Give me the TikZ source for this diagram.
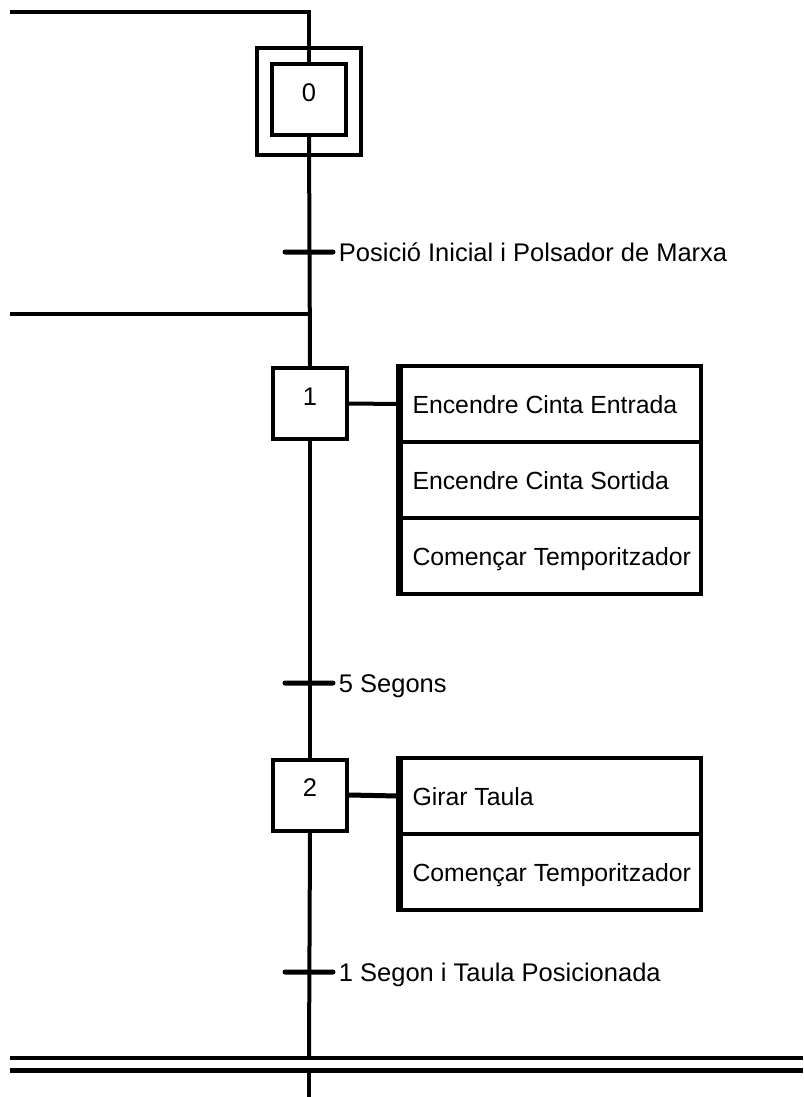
\documentclass[tikz,border=0pt]{standalone}
\usepackage{fontspec}
\setmainfont{Liberation Sans}
\begin{document}
\begin{tikzpicture}[x=1pt,y=-1pt,
  font=\fontsize{25.5}{30}\selectfont,
  conn/.style={line width=4pt},
  stepbox/.style={draw, line width=4pt, minimum width=74pt, minimum height=71pt, inner sep=0pt, text height=18.3pt, text depth=15pt},
  initouter/.style={draw, line width=4pt, minimum width=104pt, minimum height=107pt, inner sep=0pt},
  actrow/.style={draw, line width=4pt, minimum height=76pt, inner xsep=12pt, inner ysep=0pt, text height=18pt, text depth=0pt, font=\fontsize{24.8}{30}\selectfont},
  trans/.style={fill, minimum width=53pt, minimum height=5pt, inner sep=0pt, rounded corners=2.5pt},
  translabel/.style={anchor=west, inner sep=0pt, xshift=3pt, text height=18.3pt, text depth=0pt}]
\useasboundingbox (0,0) rectangle (803,1097);
\newcommand{\actxt}[1]{\makebox[276pt][l]{#1}}

% coordinates for free ends
\coordinate (topleft) at (10,12);
\coordinate (topcorner) at (309,12);
\coordinate (loopleft) at (10,314);
\coordinate (loopjoin) at (309,314);
\coordinate (dblAleft) at (10,1058);
\coordinate (dblAright) at (803,1058);
\coordinate (dblBleft) at (10,1070);
\coordinate (dblBright) at (803,1070);
\coordinate (endA) at (309,1058);
\coordinate (startB) at (309,1070);
\coordinate (bottom) at (309,1097);

% steps
\node[initouter] (s0o) at (309,101.5) {};
\node[stepbox] (s0) at (309,99.5) {0};
\node[stepbox] (s1) at (310,403.5) {1};
\node[stepbox] (s2) at (310,795) {2};

% actions
\node[actrow] (a11) at (550.5,404) {\actxt{Encendre Cinta Entrada}};
\node[actrow] (a12) at (550.5,480) {\actxt{Encendre Cinta Sortida}};
\node[actrow] (a13) at (550.5,556) {\actxt{Començar Temporitzador}};
\node[actrow] (a21) at (550.5,796) {\actxt{Girar Taula}};
\node[actrow] (a22) at (550.5,872) {\actxt{Començar Temporitzador}};
\draw[line width=6pt] (a11.north west) -- (a13.south west);
\draw[line width=6pt] (a21.north west) -- (a22.south west);

% main line
\draw[conn] (topleft) -- (topcorner) -- (s0.north);
\draw[conn] (s0.south) -- (s1.north);
\draw[conn] (loopleft) -- (loopjoin);
\draw[conn] (s1.south) -- (s2.north);
\draw[conn] (s2.south) -- (endA);
\draw[conn] (startB) -- (bottom);
\draw[line width=3.5pt] (dblAleft) -- (dblAright);
\draw[line width=5pt] (dblBleft) -- (dblBright);

% action links
\draw[conn] (s1.east) -- (a11.west);
\draw[line width=5pt] (s2.east) -- (a21.west);

% transitions
\node[trans] (t0) at (309,252) {};
\node[translabel] (l0) at (t0.east) {Posició Inicial i Polsador de Marxa};
\node[trans] (t1) at (309,683) {};
\node[translabel] (l1) at (t1.east) {5 Segons};
\node[trans] (t2) at (309,972) {};
\node[translabel] (l2) at (t2.east) {1 Segon i Taula Posicionada};
\end{tikzpicture}
\end{document}
